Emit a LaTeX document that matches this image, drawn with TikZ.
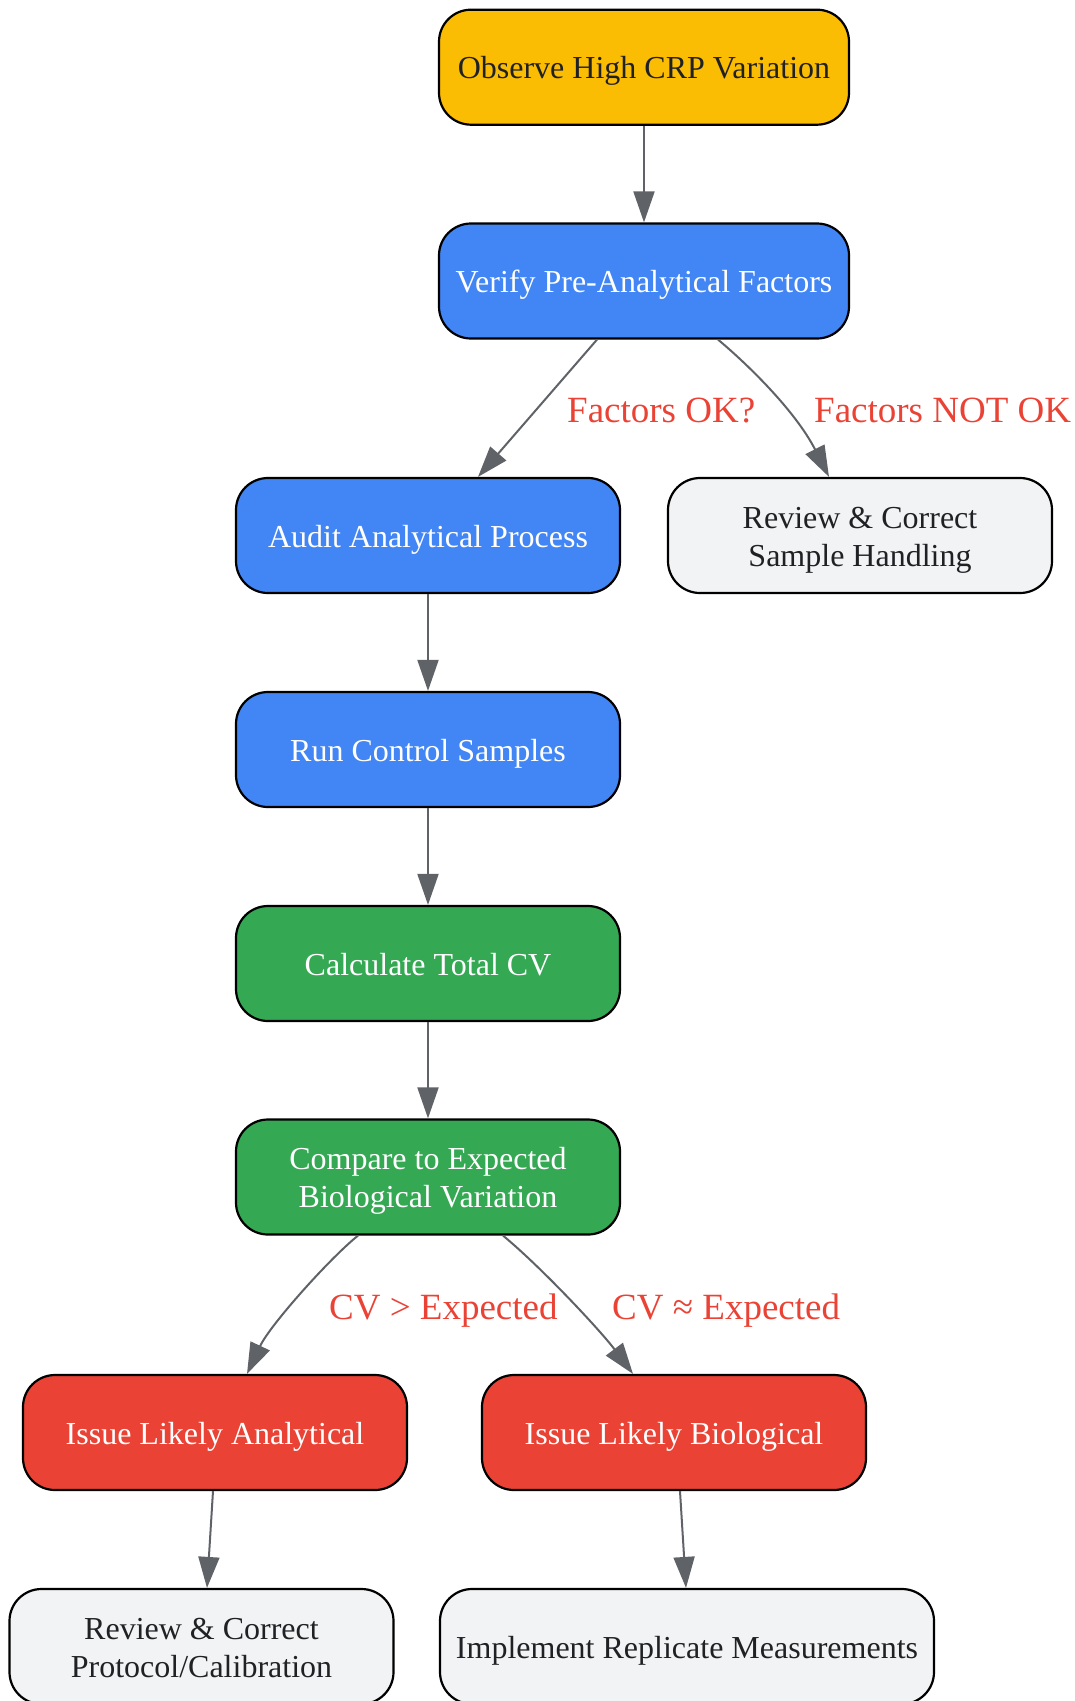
\documentclass[tikz,border=0pt]{standalone}
\usepackage{fontspec}
\setmainfont{Liberation Serif}
\usetikzlibrary{arrows.meta}
\definecolor{cyellow}{HTML}{FBBC04}
\definecolor{cblue}{HTML}{4285F4}
\definecolor{cgreen}{HTML}{34A853}
\definecolor{cred}{HTML}{EA4335}
\definecolor{cgray}{HTML}{F1F3F4}
\definecolor{cdark}{HTML}{202124}
\definecolor{cedge}{HTML}{5F6368}
\newcommand\nstrut{\rule[-6.4pt]{0pt}{36.8pt}}
\tikzset{
  box/.style={draw=black, line width=2.2pt, rounded corners=32pt, minimum width=384pt,
    minimum height=115pt, align=center, inner sep=0pt,
    font=\fontsize{32pt}{38pt}\selectfont},
  wide/.style={minimum width=410pt},
  yellowbox/.style={box, fill=cyellow, text=cdark},
  bluebox/.style={box, fill=cblue, text=white},
  greenbox/.style={box, fill=cgreen, text=white},
  redbox/.style={box, fill=cred, text=white},
  graybox/.style={box, fill=cgray, text=cdark},
  conn/.style={draw=cedge, line width=2pt, -{Triangle[length=31pt,width=21pt]}},
  elabel/.style={text=cred, inner sep=0pt, anchor=base west, font=\fontsize{37pt}{44pt}\selectfont}
}
\begin{document}
\begin{tikzpicture}[x=1pt,y=-1pt]
\useasboundingbox (0,0) rectangle (1075,1701);
\node[yellowbox, wide] (observe) at (644,67.2) {\nstrut Observe High CRP Variation\nstrut};
\node[bluebox, wide] (verify) at (644,281) {\nstrut Verify Pre-Analytical Factors\nstrut};
\node[bluebox] (audit) at (428,535.5) {\nstrut Audit Analytical Process\nstrut};
\node[graybox] (reviews) at (860,535.5) {\nstrut Review \& Correct\\Sample Handling\nstrut};
\node[bluebox] (run) at (428,749.5) {\nstrut Run Control Samples\nstrut};
\node[greenbox] (calc) at (428,963.5) {\nstrut Calculate Total CV\nstrut};
\node[greenbox] (compare) at (428,1177) {\nstrut Compare to Expected\\Biological Variation\nstrut};
\node[redbox] (issuea) at (215,1432.5) {\nstrut Issue Likely Analytical\nstrut};
\node[redbox] (issueb) at (674,1432.5) {\nstrut Issue Likely Biological\nstrut};
\node[graybox] (reviewp) at (201.5,1646.5) {\nstrut Review \& Correct\\Protocol/Calibration\nstrut};
\node[graybox, minimum width=494pt] (impl) at (687,1646.5) {\nstrut Implement Replicate Measurements\nstrut};

\node[elabel] (l1) at (567,422) {Factors OK?};
\node[elabel] (l2) at (814,422) {Factors NOT OK};
\node[elabel] (l3) at (329,1319) {CV > Expected};
\node[elabel] (l4) at (612,1319) {CV ≈ Expected};

\draw[conn] (observe.south) -- (verify.north);
\draw[conn] ([xshift=-47pt]verify.south) -- ([xshift=50pt]audit.north);
\draw[conn] ([xshift=74pt]verify.south) .. controls (745,362) and (795,410) .. ([xshift=-31pt]reviews.north);
\draw[conn] (audit.south) -- (run.north);
\draw[conn] (run.south) -- (calc.north);
\draw[conn] (calc.south) -- (compare.north);
\draw[conn] ([xshift=-70pt]compare.south) .. controls (330,1258) and (270,1325) .. ([xshift=32pt]issuea.north);
\draw[conn] ([xshift=75pt]compare.south) .. controls (540,1266) and (600,1330) .. ([xshift=-41pt]issueb.north);
\draw[conn] ([xshift=-2pt]issuea.south) -- ([xshift=5.5pt]reviewp.north);
\draw[conn] ([xshift=6pt]issueb.south) -- ([xshift=-1pt]impl.north);
\end{tikzpicture}
\end{document}
